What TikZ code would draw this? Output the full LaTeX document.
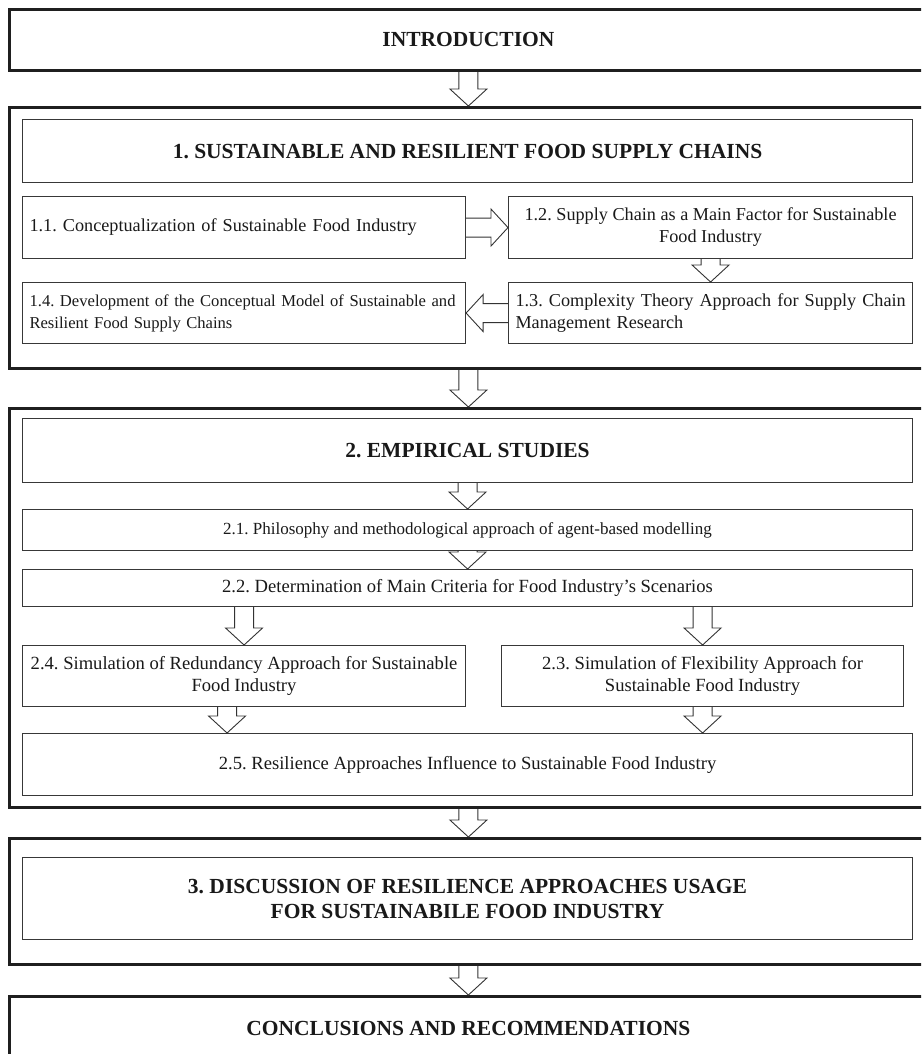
\documentclass[tikz,border=0pt]{standalone}
\usepackage{fontspec}
\setmainfont{Liberation Serif}
\usetikzlibrary{calc}
\frenchspacing

% hollow block arrows between two anchors
\newcommand\arrowdown[2]{%
  \draw[blk] let \p1=#1, \p2=#2 in
    (\x1-9.5pt,\y1) -- (\x1-9.5pt,\y2+17pt) -- (\x1-18.5pt,\y2+17pt) -- (\x1,\y2)
    -- (\x1+18.5pt,\y2+17pt) -- (\x1+9.5pt,\y2+17pt) -- (\x1+9.5pt,\y1);}
\newcommand\arrowright[2]{%
  \draw[blk] let \p1=#1, \p2=#2 in
    (\x1,\y1+9.5pt) -- (\x2-17pt,\y1+9.5pt) -- (\x2-17pt,\y1+18.5pt) -- (\x2,\y1)
    -- (\x2-17pt,\y1-18.5pt) -- (\x2-17pt,\y1-9.5pt) -- (\x1,\y1-9.5pt);}
\newcommand\arrowleft[2]{%
  \draw[blk] let \p1=#1, \p2=#2 in
    (\x1,\y1+9.5pt) -- (\x2+17pt,\y1+9.5pt) -- (\x2+17pt,\y1+18.5pt) -- (\x2,\y1)
    -- (\x2+17pt,\y1-18.5pt) -- (\x2+17pt,\y1-9.5pt) -- (\x1,\y1-9.5pt);}

\begin{document}
\begin{tikzpicture}[x=1pt,y=-1pt,
  frame/.style={draw=black!88, line width=2.8pt, inner sep=0pt, anchor=north west,
                minimum width=918pt, font=\fontsize{21.5}{25}\selectfont\bfseries, text=black!90},
  box/.style={draw=black!78, line width=1.1pt, inner sep=0pt, anchor=north west,
              font=\fontsize{18.2}{22}\selectfont, text=black!90},
  boxb/.style={box, font=\fontsize{18.6}{22}\selectfont},
  headbox/.style={box, font=\fontsize{21.5}{25}\selectfont\bfseries},
  lbox/.style={box, inner xsep=7pt, align=left},
  blk/.style={draw=black!80, line width=0.9pt, line join=miter},
]
\useasboundingbox (0,0) rectangle (921,1054);
\clip (0,0) rectangle (921,1054);

% introduction
\node[frame, minimum height=61pt] (intro) at (8,8) {INTRODUCTION};

% section 1
\node[frame, minimum height=261pt] (sec1) at (8,106) {};
\node[headbox, minimum width=890pt, minimum height=63pt] (h1) at (22,119)
  {1. SUSTAINABLE AND RESILIENT FOOD SUPPLY CHAINS};
\node[lbox, text width=429pt, minimum height=62pt] (b11) at (22,196)
  {\mbox{1.1. Conceptualization of Sustainable Food Industry}};
\node[box, minimum width=404pt, minimum height=62pt, align=center] (b12) at (508,196)
  {1.2. Supply Chain as a Main Factor for Sustainable\\Food Industry};
\node[lbox, text width=390pt, minimum height=61pt] (b13) at (508,282)
  {\mbox{1.3. Complexity Theory Approach for Supply Chain}\\\mbox{Management Research}};
\node[lbox, text width=429pt, minimum height=61pt, font=\fontsize{16.6}{22}\selectfont] (b14) at (22,282)
  {\mbox{1.4. Development of the Conceptual Model of Sustainable and}\\\mbox{Resilient Food Supply Chains}};

% section 2
\node[frame, minimum height=399pt] (sec2) at (8,407) {};
\node[headbox, minimum width=890pt, minimum height=64pt] (h2) at (22,418)
  {2. EMPIRICAL STUDIES};
\node[box, minimum width=890pt, minimum height=41pt, font=\fontsize{17}{21}\selectfont] (b21) at (22,509)
  {2.1. Philosophy and methodological approach of agent-based modelling};
\node[boxb, minimum width=890pt, minimum height=37pt] (b22) at (22,569)
  {2.2. Determination of Main Criteria for Food Industry’s Scenarios};
\node[boxb, minimum width=443pt, minimum height=61pt, align=center] (b24) at (22,645)
  {2.4. Simulation of Redundancy Approach for Sustainable\\Food Industry};
\node[boxb, minimum width=402pt, minimum height=61pt, align=center] (b23) at (501,645)
  {2.3. Simulation of Flexibility Approach for\\Sustainable Food Industry};
\node[boxb, minimum width=890pt, minimum height=62pt] (b25) at (22,733)
  {2.5. Resilience Approaches Influence to Sustainable Food Industry};

% section 3
\node[frame, minimum height=126pt] (sec3) at (8,837) {};
\node[headbox, minimum width=890pt, minimum height=82pt, align=center] (h3) at (22,857)
  {3. DISCUSSION OF RESILIENCE APPROACHES USAGE\\FOR SUSTAINABILE FOOD INDUSTRY};

% conclusions
\node[frame, minimum height=64pt] (concl) at (8,995) {CONCLUSIONS AND RECOMMENDATIONS};

% connectors
\arrowdown{(intro.south)}{(sec1.north)}
\arrowright{(b11.east)}{(b12.west)}
\arrowdown{(b12.south)}{(b13.north)}
\arrowleft{(b13.west)}{(b14.east)}
\arrowdown{(sec1.south)}{(sec2.north)}
\arrowdown{(h2.south)}{(b21.north)}
\arrowdown{(b21.south)}{(b22.north)}
\arrowdown{(b22.south -| b24.north)}{(b24.north)}
\arrowdown{(b22.south -| b23.north)}{(b23.north)}
\arrowdown{([xshift=-17pt]b24.south)}{(b25.north)}
\arrowdown{(b23.south)}{(b25.north)}
\arrowdown{(sec2.south)}{(sec3.north)}
\arrowdown{(sec3.south)}{(concl.north)}
\end{tikzpicture}
\end{document}
